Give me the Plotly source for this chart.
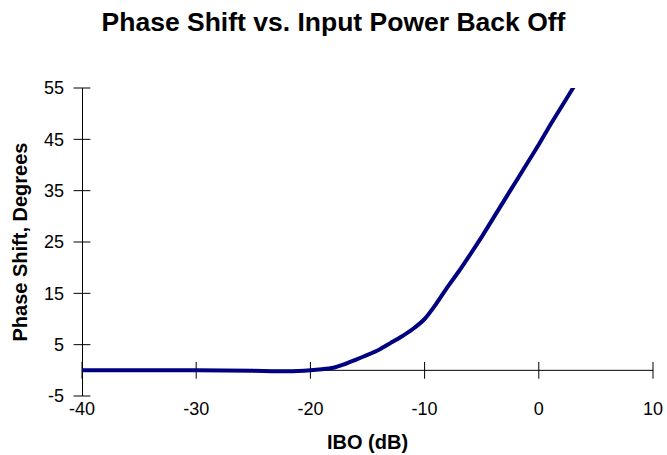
import plotly.graph_objects as go

ibo_db = [-40, -35, -30, -25, -22, -20, -19, -18, -17, -16, -15, -14, -13, -12, -11,
          -10, -9, -8, -7, -6, -5, -4, -3, -2, -1, 0, 1, 2, 3, 4]
phase_deg = [0.0, 0.0, 0.0, -0.1, -0.2, 0.0, 0.2, 0.5, 1.2, 2.1, 3.0, 4.0, 5.3, 6.6, 8.1,
             10.0, 12.9, 16.2, 19.3, 22.6, 26.0, 29.6, 33.2, 36.8, 40.4, 44.0, 47.8, 51.4, 55.0, 58.6]

x_ticks = [-40, -30, -20, -10, 0, 10]
x_labels = ["-40", "-30", "-20", "-10", "0", "10"]
y_ticks = [-5, 5, 15, 25, 35, 45, 55]
y_labels = ["-5", "5", "15", "25", "35", "45", "55"]

FONT = "Liberation Sans, Arial, Helvetica, sans-serif"
X_RANGE = [-40, 10]
Y_RANGE = [-5, 55]

fig = go.Figure()

# axis lines (x axis crosses at y = 0, y axis at the left edge), drawn under the data
fig.add_trace(go.Scatter(x=X_RANGE, y=[0, 0], mode="lines",
                         line=dict(color="black", width=1),
                         showlegend=False, hoverinfo="skip"))
fig.add_trace(go.Scatter(x=[X_RANGE[0], X_RANGE[0]], y=Y_RANGE, mode="lines",
                         line=dict(color="black", width=2),
                         showlegend=False, hoverinfo="skip"))

# crossing tick marks
fig.add_trace(go.Scatter(x=x_ticks, y=[0] * len(x_ticks), mode="markers",
                         marker=dict(symbol="line-ns", size=12, line=dict(color="black", width=1)),
                         cliponaxis=False, showlegend=False, hoverinfo="skip"))
fig.add_trace(go.Scatter(x=[X_RANGE[0]] * len(y_ticks), y=y_ticks, mode="markers",
                         marker=dict(symbol="line-ew", size=12, line=dict(color="black", width=1)),
                         cliponaxis=False, showlegend=False, hoverinfo="skip"))

fig.add_trace(
    go.Scatter(
        x=ibo_db,
        y=phase_deg,
        mode="lines",
        line=dict(color="#000080", width=4, shape="spline", smoothing=0.4),
        showlegend=False,
        hoverinfo="x+y",
    )
)

fig.update_layout(
    width=667,
    height=455,
    template="none",
    paper_bgcolor="white",
    plot_bgcolor="white",
    font=dict(family=FONT, color="black", size=18),
    margin=dict(l=82, r=14, t=88, b=59, autoexpand=False),
    title=dict(
        text="<b>Phase Shift vs. Input Power Back Off</b>",
        x=0.5,
        xanchor="center",
        y=1 - 22 / 455,
        yanchor="middle",
        font=dict(size=26.5, family=FONT),
    ),
    xaxis=dict(
        range=X_RANGE,
        tickvals=x_ticks,
        ticktext=x_labels,
        showline=False,
        ticks="",
        showgrid=False,
        zeroline=False,
        automargin=False,
        ticklabelstandoff=0,
        title=dict(text="<b>IBO (dB)</b>", font=dict(size=20), standoff=16),
    ),
    yaxis=dict(
        range=Y_RANGE,
        tickvals=y_ticks,
        ticktext=y_labels,
        showline=False,
        ticks="",
        showgrid=False,
        zeroline=False,
        automargin=False,
        ticklabelstandoff=17,
        title=dict(text="<b>Phase Shift, Degrees</b>", font=dict(size=20), standoff=10),
    ),
)

# drop the browser's default page margin so the figure sits at the window corner
fig.write_html("out.html", config={"displayModeBar": False},
               post_script="document.body.style.margin = '0';")
